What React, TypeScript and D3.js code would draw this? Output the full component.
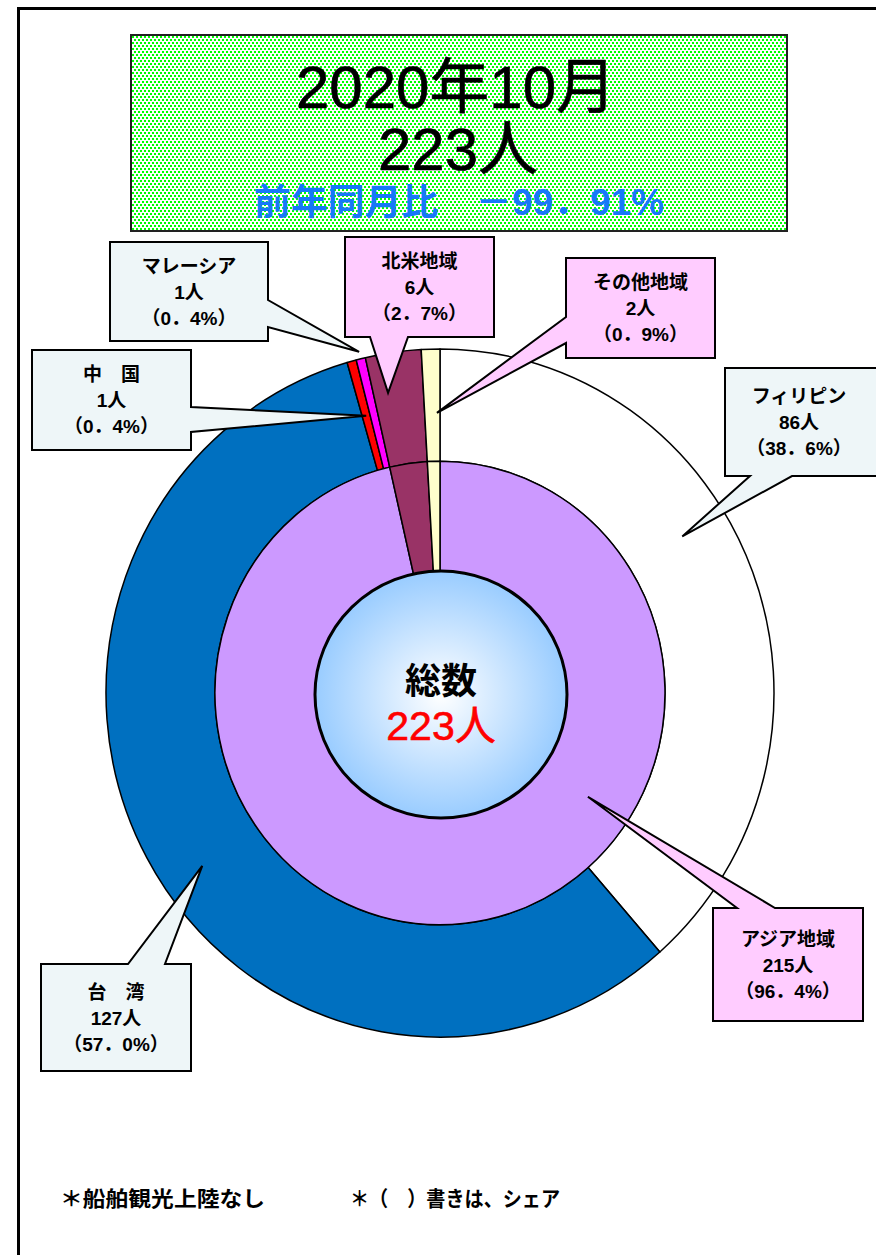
import React from "react";
import * as d3 from "d3";

// ---- data ----
const countryNames = ["フィリピン", "台湾", "中国", "マレーシア", "北米地域", "その他地域"];
const countryValues = [86, 127, 1, 1, 6, 2];
const countryColors = ["#FFFFFF", "#0070C0", "#FF0000", "#FF00FF", "#993366", "#FFFFCC"];

const regionNames = ["アジア地域", "北米地域", "その他地域"];
const regionValues = [215, 6, 2];
const regionColors = ["#CC99FF", "#993366", "#FFFFCC"];

const totalLabel = "223人";
const titleLines = ["2020年10月", "223人"];
const yoyLabel = "前年同月比　－99．91%";
const footnotes = ["＊船舶観光上陸なし", "＊（　）書きは、シェア"];

type Callout = {
  ring: "outer" | "inner";
  idx: number;
  lines: string[];
  box: [number, number, number, number];
  side: "top" | "bottom" | "left" | "right";
  base: [number, number];
  t: number;
  r: number;
  fill: string;
};

const pct = (v: number, tot: number) => {
  const s = ((v / tot) * 100).toFixed(1).replace(".", "．");
  return `（${s}%）`;
};

const W = 876, H = 1255;
const CX = 440, CY = 693, SY = 1.03;
const R_OUT = 334, R_MID = 225, R_IN = 118;

export default function App() {
  const total = d3.sum(countryValues);
  const pie = d3.pie<number>().sort(null).startAngle(0).endAngle(2 * Math.PI);
  const outerArcs = pie(countryValues);
  const innerArcs = pie(regionValues);
  const arcOuter = d3.arc<d3.PieArcDatum<number>>().innerRadius(R_MID).outerRadius(R_OUT);
  const arcInner = d3.arc<d3.PieArcDatum<number>>().innerRadius(R_IN).outerRadius(R_MID);

  const cLight = "#EEF6F8";
  const cPink = "#FFCCFF";
  const mk = (name: string, v: number) => [name, `${v}人`, pct(v, total)];
  const callouts: Callout[] = [
    { ring: "outer", idx: 0, lines: ["フィリピン", `${countryValues[0]}人`, pct(countryValues[0], total)], box: [725, 368, 878, 476], side: "bottom", base: [750, 792], t: 0.417, r: 286, fill: cLight },
    { ring: "outer", idx: 1, lines: ["台　湾", `${countryValues[1]}人`, pct(countryValues[1], total)], box: [41, 964, 191, 1071], side: "top", base: [128, 165], t: 0.468, r: 291, fill: cLight },
    { ring: "outer", idx: 2, lines: ["中　国", `${countryValues[2]}人`, pct(countryValues[2], total)], box: [32, 350, 191, 450], side: "right", base: [407, 432], t: 0.5, r: 279, fill: cLight },
    { ring: "outer", idx: 3, lines: mk(countryNames[3], countryValues[3]), box: [110, 242, 268, 341], side: "right", base: [300, 327], t: 0.5, r: 341, fill: cLight },
    { ring: "outer", idx: 4, lines: mk(countryNames[4], countryValues[4]), box: [345, 237, 494, 337], side: "bottom", base: [370, 408], t: 0.29, r: 296, fill: cPink },
    { ring: "outer", idx: 5, lines: mk(countryNames[5], countryValues[5]), box: [566, 258, 715, 358], side: "left", base: [317, 343], t: 0.8, r: 272, fill: cPink },
    { ring: "inner", idx: 0, lines: mk(regionNames[0], regionValues[0]), box: [713, 908, 863, 1021], side: "top", base: [737, 775], t: 0.358, r: 179, fill: cPink },
  ];

  const tipOf = (c: Callout): [number, number] => {
    const a = (c.ring === "outer" ? outerArcs : innerArcs)[c.idx];
    const ang = a.startAngle + c.t * (a.endAngle - a.startAngle);
    return [CX + Math.sin(ang) * c.r, CY - Math.cos(ang) * c.r * SY];
  };

  const calloutPath = (c: Callout) => {
    const [x0, y0, x1, y1] = c.box;
    const [b1, b2] = c.base;
    const [tx, ty] = tipOf(c);
    const p = d3.path();
    if (c.side === "top") {
      p.moveTo(x0, y0); p.lineTo(b1, y0); p.lineTo(tx, ty); p.lineTo(b2, y0);
      p.lineTo(x1, y0); p.lineTo(x1, y1); p.lineTo(x0, y1);
    } else if (c.side === "bottom") {
      p.moveTo(x0, y0); p.lineTo(x1, y0); p.lineTo(x1, y1); p.lineTo(b2, y1);
      p.lineTo(tx, ty); p.lineTo(b1, y1); p.lineTo(x0, y1);
    } else if (c.side === "right") {
      p.moveTo(x0, y0); p.lineTo(x1, y0); p.lineTo(x1, b1); p.lineTo(tx, ty);
      p.lineTo(x1, b2); p.lineTo(x1, y1); p.lineTo(x0, y1);
    } else {
      p.moveTo(x0, y0); p.lineTo(x1, y0); p.lineTo(x1, y1); p.lineTo(x0, y1);
      p.lineTo(x0, b2); p.lineTo(tx, ty); p.lineTo(x0, b1);
    }
    p.closePath();
    return p.toString();
  };

  const fontJP = "'Liberation Sans', 'Noto Sans CJK JP', sans-serif";

  return (
    <svg width={W} height={H} style={{ position: "absolute", left: 0, top: 0, background: "#fff" }}>
      <defs>
        <pattern id="dots" width="8" height="6" patternUnits="userSpaceOnUse">
          <rect width="8" height="6" fill="#FFFFFF" />
          <rect x="0" y="0" width="2" height="2" fill="#00FF00" />
          <rect x="4" y="0" width="2" height="2" fill="#00FF00" />
          <rect x="2" y="3" width="2" height="2" fill="#00FF00" />
          <rect x="6" y="3" width="2" height="2" fill="#00FF00" />
        </pattern>
        <radialGradient id="ctr" cx="50%" cy="50%" r="50%">
          <stop offset="0%" stopColor="#FFFFFF" />
          <stop offset="100%" stopColor="#99CCFF" />
        </radialGradient>
      </defs>

      {/* frame */}
      <rect x={18.5} y={8.5} width={1000} height={1400} fill="none" stroke="#000" strokeWidth={3} />

      {/* title box */}
      <rect x={131} y={35} width={656} height={196} fill="url(#dots)" stroke="#222" strokeWidth={2} />
      <text x={456} y={108} textAnchor="middle" fontFamily={fontJP} fontSize={60} fill="#000" stroke="#000" strokeWidth={0.6}>{titleLines[0]}</text>
      <text x={458} y={170} textAnchor="middle" fontFamily={fontJP} fontSize={60} fill="#000" stroke="#000" strokeWidth={0.6}>{titleLines[1]}</text>
      <text x={459} y={215} textAnchor="middle" fontFamily={fontJP} fontSize={36} fontWeight="bold" fill="#1878F8" textLength={410} lengthAdjust="spacingAndGlyphs">{yoyLabel}</text>

      {/* pie rings */}
      <g transform={`translate(${CX},${CY}) scale(1,${SY})`}>
        {outerArcs.map((a, i) => (
          <path key={"o" + i} d={arcOuter(a) || ""} fill={countryColors[i]} stroke="#000" strokeWidth={1.5} vectorEffect="non-scaling-stroke" strokeLinejoin="round" />
        ))}
        {innerArcs.map((a, i) => (
          <path key={"i" + i} d={arcInner(a) || ""} fill={regionColors[i]} stroke="#000" strokeWidth={1.5} vectorEffect="non-scaling-stroke" strokeLinejoin="round" />
        ))}
      </g>

      {/* center circle */}
      <ellipse cx={441} cy={694.5} rx={126} ry={123.5} fill="url(#ctr)" stroke="#000" strokeWidth={3} />
      <text x={441} y={694} textAnchor="middle" fontFamily={fontJP} fontSize={36} fontWeight="bold" fill="#000">総数</text>
      <text x={441} y={740} textAnchor="middle" fontFamily={fontJP} fontSize={41} fill="#FF0000" stroke="#FF0000" strokeWidth={0.6}>{totalLabel}</text>

      {/* callouts */}
      {callouts.map((c, i) => {
        const cx = (c.box[0] + Math.min(c.box[2], 873)) / 2;
        const cy = (c.box[1] + c.box[3]) / 2;
        return (
          <g key={"c" + i}>
            <path d={calloutPath(c)} fill={c.fill} stroke="#000" strokeWidth={2} strokeLinejoin="miter" />
            {c.lines.map((l, j) => (
              <text key={j} x={cx} y={cy + (j - 1) * 26 + 7} textAnchor="middle" fontFamily={fontJP} fontSize={19} fontWeight="bold" fill="#000">{l}</text>
            ))}
          </g>
        );
      })}

      {/* footnotes */}
      <text x={60} y={1206} fontFamily={fontJP} fontSize={21} fontWeight="bold" fill="#000" textLength={205} lengthAdjust="spacingAndGlyphs">{footnotes[0]}</text>
      <text x={350} y={1206} fontFamily={fontJP} fontSize={21} fontWeight="bold" fill="#000" textLength={210} lengthAdjust="spacingAndGlyphs">{footnotes[1]}</text>
    </svg>
  );
}
